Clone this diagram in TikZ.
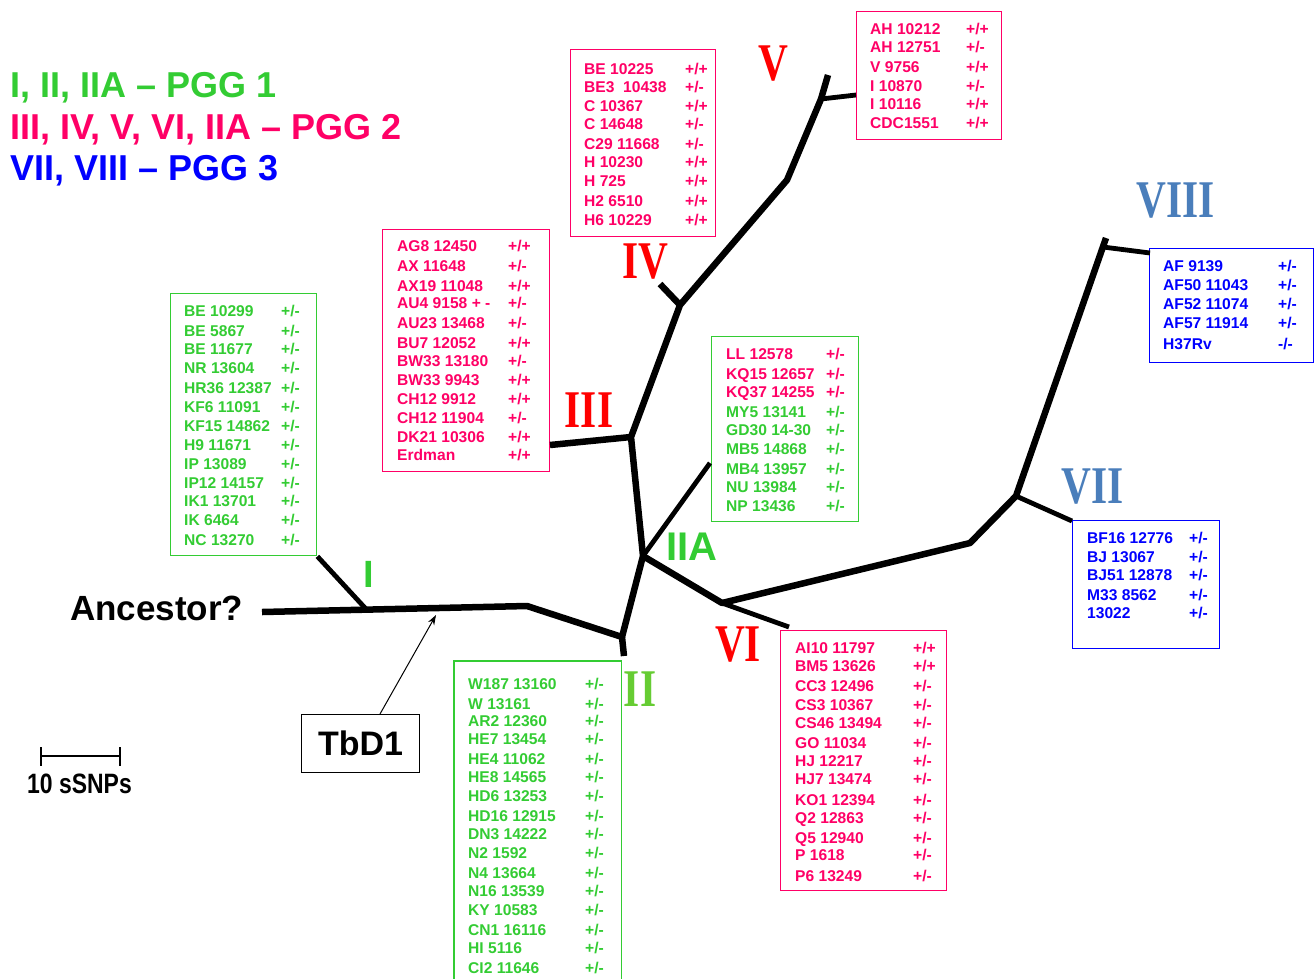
\documentclass[tikz,border=0pt]{standalone}
\usepackage{fontspec}
\setmainfont{Liberation Sans}
\newfontfamily\serifb{Liberation Serif}
\usetikzlibrary{arrows.meta}
\definecolor{pgGreen}{RGB}{51,204,51}
\definecolor{pgPink}{RGB}{255,0,102}
\definecolor{pgBlue}{RGB}{0,0,255}
\definecolor{numRed}{RGB}{255,0,0}
\definecolor{numSteel}{RGB}{74,126,187}
\definecolor{numGreen}{RGB}{102,204,51}
\newcommand\vPM{+/-}
\newcommand\vPP{+/+}
\newcommand\vMM{-/-}
\newcommand\numtxt[1]{\scalebox{0.78}[1]{#1}}
\tikzset{
  row/.style={anchor=base west, inner sep=0pt, font=\bfseries\fontsize{15.6}{18}\selectfont},
  listbox/.style={anchor=north west, inner sep=0pt, line width=1.4pt},
  branch/.style={line width=6.5pt, line join=round},
  twig/.style={line width=4.8pt, line join=round},
  numeral/.style={inner sep=0pt, font=\serifb\bfseries\fontsize{53}{53}\selectfont},
  legend/.style={anchor=base west, inner sep=0pt, font=\bfseries\fontsize{36}{40}\selectfont},
}
\begin{document}
\begin{tikzpicture}[x=1pt,y=-1pt]
\useasboundingbox (0,0) rectangle (1314,978);
\fill[white] (0,0) rectangle (1314,978);

% legend
\node[legend, pgGreen] (leg1) at (10,97.5) {I, II, IIA – PGG 1};
\node[legend, pgPink] (leg2) at (10,139.5) {III, IV, V, VI, IIA – PGG 2};
\node[legend, pgBlue] (leg3) at (10,180.5) {VII, VIII – PGG 3};

% boxes
\node[listbox, draw=pgGreen, minimum width=146pt, minimum height=262pt] (boxI) at (170,293) {};
\node[listbox, draw=pgPink, minimum width=167pt, minimum height=242pt] (boxIII) at (382,229) {};
\node[listbox, draw=pgPink, minimum width=145pt, minimum height=187pt] (boxIV) at (570,49) {};
\node[listbox, draw=pgPink, minimum width=145pt, minimum height=128pt] (boxV) at (856,11) {};
\node[listbox, draw=pgBlue, minimum width=164pt, minimum height=114pt] (boxVIII) at (1149,248) {};
\node[listbox, draw=pgGreen, minimum width=147pt, minimum height=185pt] (boxIIA) at (711,336) {};
\node[listbox, draw=pgBlue, minimum width=147pt, minimum height=128pt] (boxVII) at (1072,520) {};
\node[listbox, draw=pgPink, minimum width=166pt, minimum height=260pt] (boxVI) at (780,630) {};
\node[listbox, minimum width=166pt, minimum height=330pt] (boxII) at (454,661) {};
\draw[pgGreen, line width=1.4pt] (boxII.south west) -- (boxII.north west) -- (boxII.north east) -- (boxII.south east);

% rows box I
\foreach \y/\a/\b in {311/BE 10299/\vPM, 331/BE 5867/\vPM, 349/BE 11677/\vPM, 368/NR 13604/\vPM, 388/HR36 12387/\vPM, 407/KF6 11091/\vPM, 426/KF15 14862/\vPM, 445/H9 11671/\vPM, 464/IP 13089/\vPM, 483/IP12 14157/\vPM, 501/IK1 13701/\vPM, 520/IK 6464/\vPM, 540/NC 13270/\vPM}{
  \node[row, pgGreen] (Ia\y) at (184,\y+5.5) {\a};
  \node[row, pgGreen] (Ib\y) at (281,\y+5.5) {\b};
}
% rows box III
\foreach \y/\a/\b in {246/AG8 12450/\vPP, 266/AX 11648/\vPM, 286/AX19 11048/\vPP, 303/AU4 9158 + -/\vPM, 323/AU23 13468/\vPM, 343/BU7 12052/\vPP, 361/BW33 13180/\vPM, 380/BW33 9943/\vPP, 399/CH12 9912/\vPP, 418/CH12 11904/\vPM, 437/DK21 10306/\vPP, 455/Erdman/\vPP}{
  \node[row, pgPink] (IIIa\y) at (397,\y+5.5) {\a};
  \node[row, pgPink] (IIIb\y) at (508,\y+5.5) {\b};
}
% rows box IV
\foreach \y/\a/\b in {69/BE 10225/\vPP, 87/BE3\ \ 10438/\vPM, 106/C 10367/\vPP, 124/C 14648/\vPM, 144/C29 11668/\vPM, 162/H 10230/\vPP, 181/H 725/\vPP, 201/H2 6510/\vPP, 220/H6 10229/\vPP}{
  \node[row, pgPink] (IVa\y) at (584,\y+5.5) {\a};
  \node[row, pgPink] (IVb\y) at (685,\y+5.5) {\b};
}
% rows box V
\foreach \y/\a/\b in {29/AH 10212/\vPP, 47/AH 12751/\vPM, 67/V 9756/\vPP, 86/I 10870/\vPM, 104/I 10116/\vPP, 123/CDC1551/\vPP}{
  \node[row, pgPink] (Va\y) at (870,\y+5.5) {\a};
  \node[row, pgPink] (Vb\y) at (966,\y+5.5) {\b};
}
% rows box VIII
\foreach \y/\a/\b in {266/AF 9139/\vPM, 285/AF50 11043/\vPM, 304/AF52 11074/\vPM, 323/AF57 11914/\vPM, 344/H37Rv/\vMM}{
  \node[row, pgBlue] (VIIIa\y) at (1163,\y+5.5) {\a};
  \node[row, pgBlue] (VIIIb\y) at (1278,\y+5.5) {\b};
}
% rows box IIA
\foreach \y/\a/\c in {354/LL 12578/pgPink, 374/KQ15 12657/pgPink, 392/KQ37 14255/pgPink, 412/MY5 13141/pgGreen, 430/GD30 14-30/pgGreen, 449/MB5 14868/pgGreen, 469/MB4 13957/pgGreen, 487/NU 13984/pgGreen, 506/NP 13436/pgGreen}{
  \node[row, text=\c] (IIAa\y) at (726,\y+5.5) {\a};
  \node[row, text=\c] (IIAb\y) at (826,\y+5.5) {\vPM};
}
% rows box VII
\foreach \y/\a in {538/BF16 12776, 557/BJ 13067, 575/BJ51 12878, 595/M33 8562, 613/13022}{
  \node[row, pgBlue] (VIIa\y) at (1087,\y+5.5) {\a};
  \node[row, pgBlue] (VIIb\y) at (1189,\y+5.5) {\vPM};
}
% rows box II
\foreach \y/\a in {684/W187 13160, 704/W 13161, 721/AR2 12360, 739/HE7 13454, 759/HE4 11062, 777/HE8 14565, 796/HD6 13253, 816/HD16 12915, 834/DN3 14222, 853/N2 1592, 873/N4 13664, 891/N16 13539, 910/KY 10583, 930/CN1 16116, 948/HI 5116, 968/CI2 11646}{
  \node[row, pgGreen] (IIa\y) at (468,\y+5.5) {\a};
  \node[row, pgGreen] (IIb\y) at (585,\y+5.5) {\vPM};
}
% rows box VI
\foreach \y/\a/\b in {648/AI10 11797/\vPP, 666/BM5 13626/\vPP, 686/CC3 12496/\vPM, 705/CS3 10367/\vPM, 723/CS46 13494/\vPM, 743/GO 11034/\vPM, 761/HJ 12217/\vPM, 779/HJ7 13474/\vPM, 800/KO1 12394/\vPM, 818/Q2 12863/\vPM, 838/Q5 12940/\vPM, 855/P 1618/\vPM, 876/P6 13249/\vPM}{
  \node[row, pgPink] (VIa\y) at (795,\y+5.5) {\a};
  \node[row, pgPink] (VIb\y) at (913,\y+5.5) {\b};
}

% tree coordinates
\coordinate (anc) at (262,612);
\coordinate (nI) at (366,609);
\coordinate (k1) at (527,606);
\coordinate (nII) at (622,637);
\coordinate (IIstub) at (624,656);
\coordinate (nIIA) at (643,556);
\coordinate (nIII) at (631,437);
\coordinate (IIIend) at (550,445);
\coordinate (nIV) at (680,305);
\coordinate (IVstub) at (660,284);
\coordinate (k2) at (787,180);
\coordinate (nV) at (821,99);
\coordinate (Vtop) at (828,75);
\coordinate (Vstub) at (856,95);
\coordinate (IIAend) at (710,463);
\coordinate (nVI) at (722,603);
\coordinate (VIend) at (789,627);
\coordinate (k3) at (970,543);
\coordinate (nVII) at (1016,496);
\coordinate (VIIend) at (1072,521);
\coordinate (nVIII) at (1106,238);
\coordinate (VIIIj) at (1103,247);
\coordinate (VIIIend) at (1150,253);

\draw[branch] (anc) -- (k1) -- (nII) -- (nIIA) -- (nIII) -- (nIV) -- (k2) -- (nV) -- (Vtop);
\draw[branch] (nII) -- (IIstub);
\draw[branch] (nIII) -- (IIIend);
\draw[branch] (nIV) -- (IVstub);
\draw[twig] (nV) -- (Vstub);
\draw[twig] (nI) -- (boxI.south east);
\draw[twig] (nIIA) -- (IIAend);
\draw[branch] (nIIA) -- (nVI) -- (k3) -- (nVII) -- (nVIII);
\draw[twig] (nVI) -- (VIend);
\draw[twig] (nVII) -- (VIIend);
\draw[twig] (VIIIj) -- (VIIIend);

% numerals
\node[numeral, numRed] (labV) at (773,64) {\numtxt{V}};
\node[numeral, numRed] (labIV) at (645,262) {\numtxt{IV}};
\node[numeral, numRed] (labIII) at (589,410) {\numtxt{III}};
\node[numeral, numRed] (labVI) at (738,645) {\numtxt{VI}};
\node[numeral, numSteel] (labVIII) at (1176,201) {\numtxt{VIII}};
\node[numeral, numSteel] (labVII) at (1093,487) {\numtxt{VII}};
\node[numeral, numGreen] (labII) at (640,689) {\numtxt{II}};
\node[inner sep=0pt, pgGreen, font=\bfseries\fontsize{38}{40}\selectfont] (labI) at (369,574) {I};
\node[inner sep=0pt, pgGreen, font=\bfseries\fontsize{40}{42}\selectfont] (labIIA) at (692,547) {IIA};

% ancestor, TbD1
\node[anchor=base west, inner sep=0pt, font=\bfseries\fontsize{35}{40}\selectfont] (ancT) at (70,620) {Ancestor?};
\node[draw, line width=1pt, minimum width=118pt, minimum height=58pt, inner sep=0pt, anchor=north west, font=\bfseries\fontsize{34}{38}\selectfont] (tbd) at (301,714) {TbD1};
\coordinate (tbdTip) at (436,615);
\draw[line width=1pt, -{Stealth[length=10pt, width=7pt]}] (tbd.north west) ++(79,0) coordinate (tbdFoot) -- (tbdTip);

% scale bar
\coordinate (sbL) at (41,756);
\coordinate (sbR) at (120,756);
\draw[line width=1.6pt] (sbL) -- (sbR);
\draw[line width=1.6pt] (41,747) -- (41,766) (120,747) -- (120,766);
\node[anchor=base west, inner sep=0pt, font=\bfseries\fontsize{28}{30}\selectfont] (sbT) at (27,793) {\scalebox{0.82}[1]{10 sSNPs}};
\end{tikzpicture}
\end{document}
